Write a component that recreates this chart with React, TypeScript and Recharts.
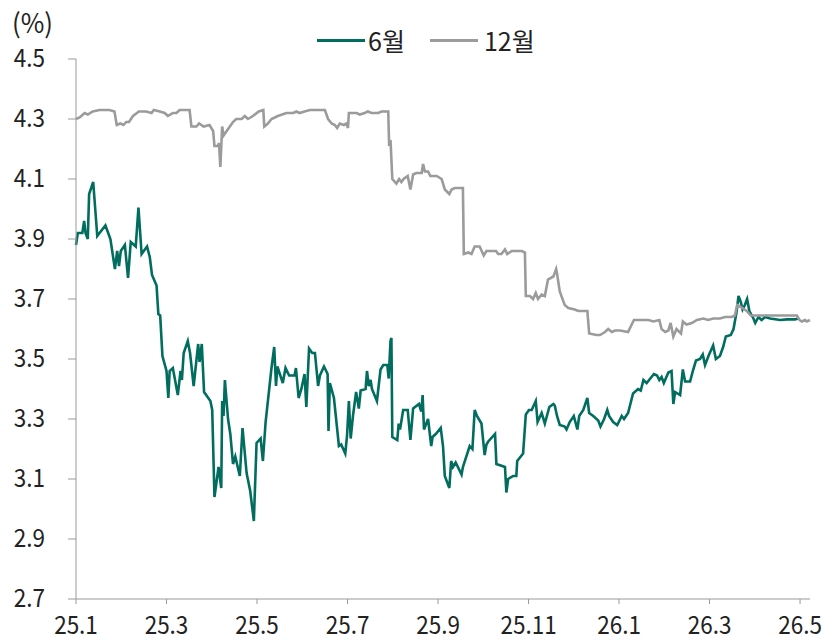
import React from 'react';
import { LineChart, Line, XAxis, YAxis } from 'recharts';

// x = months since 25.1 (Jan 2025), y = yield (%)
const sixMonthT = [
  0, 0.04, 0.14, 0.18, 0.21, 0.26, 0.29, 0.38, 0.47, 0.52, 0.65, 0.76, 0.86, 0.91, 0.95, 0.99,
  1.08, 1.15, 1.21, 1.32, 1.38, 1.45, 1.57, 1.63, 1.68, 1.78, 1.82, 1.86, 1.91, 2.0, 2.04, 2.07,
  2.14, 2.25, 2.31, 2.34, 2.38, 2.47, 2.52, 2.6, 2.7, 2.73, 2.78, 2.83, 2.97, 3.01, 3.06, 3.15,
  3.21, 3.23, 3.26, 3.29, 3.36, 3.41, 3.47, 3.52, 3.62, 3.68, 3.77, 3.85, 3.93, 3.99, 4.08, 4.13,
  4.19, 4.32, 4.38, 4.42, 4.45, 4.57, 4.63, 4.71, 4.83, 4.86, 4.92, 4.98, 5.05, 5.09, 5.15, 5.22,
  5.28, 5.35, 5.39, 5.48, 5.56, 5.58, 5.61, 5.7, 5.81, 5.86, 5.95, 5.99, 6.03, 6.07, 6.12, 6.19,
  6.25, 6.29, 6.4, 6.43, 6.47, 6.51, 6.54, 6.65, 6.73, 6.79, 6.88, 6.91, 6.95, 6.97, 6.99, 7.1,
  7.13, 7.16, 7.23, 7.33, 7.39, 7.45, 7.58, 7.63, 7.66, 7.69, 7.78, 7.85, 7.88, 7.95, 8.06, 8.11,
  8.15, 8.25, 8.29, 8.33, 8.39, 8.52, 8.55, 8.7, 8.76, 8.81, 8.86, 8.96, 9.03, 9.07, 9.11, 9.26,
  9.29, 9.48, 9.51, 9.55, 9.66, 9.73, 9.75, 9.88, 9.94, 10.01, 10.07, 10.1, 10.16, 10.2, 10.29, 10.36,
  10.46, 10.55, 10.58, 10.63, 10.69, 10.8, 10.84, 10.91, 11.0, 11.08, 11.12, 11.21, 11.3, 11.34, 11.43, 11.54,
  11.59, 11.67, 11.74, 11.78, 11.87, 11.96, 12.06, 12.11, 12.2, 12.31, 12.42, 12.48, 12.54, 12.61, 12.77, 12.84,
  12.89, 12.94, 12.99, 13.09, 13.16, 13.2, 13.24, 13.35, 13.41, 13.46, 13.57, 13.64, 13.7, 13.79, 13.85, 13.9,
  13.99, 14.08, 14.14, 14.23, 14.3, 14.36, 14.47, 14.53, 14.6, 14.64, 14.69, 14.73, 14.78, 14.83, 14.88, 14.97,
  15.01, 15.08, 15.15, 15.23, 15.34, 15.56, 15.71, 15.89, 15.96,
];
const sixMonthY = [
  3.88, 3.92, 3.92, 3.96, 3.92, 3.9, 4.05, 4.09, 3.91, 3.92, 3.945, 3.9, 3.8, 3.86, 3.81, 3.86,
  3.88, 3.77, 3.89, 3.875, 4.005, 3.85, 3.875, 3.84, 3.78, 3.745, 3.65, 3.645, 3.51, 3.46, 3.37, 3.46,
  3.47, 3.38, 3.46, 3.43, 3.52, 3.56, 3.52, 3.41, 3.55, 3.49, 3.55, 3.39, 3.36, 3.33, 3.04, 3.14,
  3.07, 3.36, 3.31, 3.43, 3.3, 3.25, 3.15, 3.175, 3.11, 3.27, 3.12, 3.06, 2.96, 3.22, 3.235, 3.16,
  3.29, 3.47, 3.54, 3.41, 3.475, 3.42, 3.47, 3.445, 3.445, 3.47, 3.37, 3.4, 3.45, 3.34, 3.535, 3.52,
  3.52, 3.41, 3.445, 3.475, 3.45, 3.26, 3.42, 3.37, 3.21, 3.215, 3.185, 3.245, 3.36, 3.235, 3.31, 3.39,
  3.335, 3.395, 3.4, 3.46, 3.41, 3.43, 3.4, 3.36, 3.465, 3.48, 3.48, 3.435, 3.56, 3.57, 3.24, 3.23,
  3.285, 3.265, 3.33, 3.33, 3.23, 3.335, 3.35, 3.325, 3.38, 3.265, 3.3, 3.21, 3.24, 3.25, 3.27, 3.21,
  3.11, 3.07, 3.16, 3.14, 3.155, 3.115, 3.14, 3.21, 3.2, 3.33, 3.31, 3.285, 3.18, 3.215, 3.225, 3.25,
  3.15, 3.14, 3.055, 3.1, 3.11, 3.11, 3.16, 3.185, 3.315, 3.33, 3.33, 3.34, 3.36, 3.29, 3.32, 3.285,
  3.34, 3.35, 3.345, 3.31, 3.28, 3.275, 3.265, 3.29, 3.31, 3.265, 3.31, 3.33, 3.37, 3.32, 3.31, 3.295,
  3.275, 3.3, 3.33, 3.31, 3.29, 3.28, 3.31, 3.3, 3.32, 3.385, 3.4, 3.395, 3.43, 3.42, 3.45, 3.445,
  3.43, 3.44, 3.42, 3.455, 3.46, 3.35, 3.39, 3.38, 3.465, 3.425, 3.425, 3.465, 3.495, 3.5, 3.515, 3.48,
  3.515, 3.545, 3.5, 3.51, 3.54, 3.575, 3.58, 3.6, 3.66, 3.71, 3.69, 3.665, 3.68, 3.7, 3.66, 3.635,
  3.62, 3.64, 3.63, 3.64, 3.635, 3.63, 3.632, 3.632, 3.635,
];

const twelveMonthT = [
  0, 0.08, 0.19, 0.26, 0.37, 0.52, 0.74, 0.85, 0.9, 0.98, 1.05, 1.11, 1.17, 1.26, 1.39, 1.55,
  1.67, 1.72, 1.85, 1.96, 2.03, 2.09, 2.14, 2.22, 2.29, 2.44, 2.51, 2.55, 2.66, 2.72, 2.82, 2.95,
  3.03, 3.06, 3.14, 3.16, 3.19, 3.23, 3.26, 3.4, 3.47, 3.54, 3.66, 3.73, 3.8, 3.91, 4.04, 4.14,
  4.16, 4.24, 4.32, 4.46, 4.65, 4.8, 4.87, 4.94, 5.05, 5.17, 5.35, 5.39, 5.5, 5.57, 5.65, 5.72,
  5.77, 5.83, 5.92, 5.98, 6.01, 6.03, 6.2, 6.27, 6.38, 6.45, 6.53, 6.6, 6.68, 6.75, 6.9, 6.92,
  6.95, 6.99, 7.08, 7.14, 7.19, 7.24, 7.33, 7.39, 7.45, 7.52, 7.64, 7.67, 7.71, 7.78, 7.83, 7.97,
  8.08, 8.15, 8.25, 8.3, 8.37, 8.44, 8.55, 8.57, 8.67, 8.74, 8.81, 8.92, 9.01, 9.07, 9.22, 9.28,
  9.33, 9.4, 9.48, 9.53, 9.63, 9.74, 9.85, 9.92, 9.94, 10.03, 10.1, 10.16, 10.21, 10.29, 10.36, 10.43,
  10.55, 10.61, 10.63, 10.69, 10.8, 10.88, 11.02, 11.1, 11.17, 11.3, 11.34, 11.5, 11.58, 11.69, 11.76, 11.84,
  11.91, 12.02, 12.2, 12.28, 12.33, 12.46, 12.65, 12.76, 12.89, 12.94, 13.02, 13.09, 13.14, 13.2, 13.27, 13.37,
  13.41, 13.49, 13.61, 13.72, 13.86, 13.97, 14.08, 14.23, 14.34, 14.49, 14.56, 14.61, 14.67, 14.73, 14.82, 14.91,
  15.04, 15.26, 15.63, 15.93, 15.99, 16.04, 16.11, 16.15, 16.22,
];
const twelveMonthY = [
  4.3, 4.305, 4.32, 4.315, 4.325, 4.33, 4.33, 4.325, 4.28, 4.285, 4.28, 4.29, 4.29, 4.31, 4.325, 4.325,
  4.32, 4.33, 4.325, 4.32, 4.31, 4.315, 4.32, 4.32, 4.33, 4.33, 4.33, 4.275, 4.275, 4.285, 4.275, 4.28,
  4.26, 4.21, 4.21, 4.22, 4.14, 4.275, 4.245, 4.275, 4.29, 4.3, 4.3, 4.31, 4.3, 4.31, 4.325, 4.33,
  4.275, 4.285, 4.3, 4.31, 4.32, 4.32, 4.325, 4.32, 4.325, 4.33, 4.33, 4.33, 4.33, 4.3, 4.285, 4.28,
  4.27, 4.285, 4.28, 4.285, 4.27, 4.32, 4.32, 4.315, 4.32, 4.325, 4.32, 4.32, 4.32, 4.325, 4.325, 4.21,
  4.23, 4.1, 4.085, 4.1, 4.09, 4.1, 4.11, 4.065, 4.115, 4.12, 4.12, 4.15, 4.125, 4.125, 4.11, 4.11,
  4.1, 4.065, 4.05, 4.065, 4.07, 4.07, 4.07, 3.85, 3.855, 3.85, 3.875, 3.875, 3.845, 3.86, 3.86, 3.86,
  3.85, 3.85, 3.865, 3.85, 3.86, 3.86, 3.86, 3.855, 3.71, 3.71, 3.7, 3.72, 3.7, 3.715, 3.71, 3.765,
  3.775, 3.8, 3.785, 3.725, 3.68, 3.67, 3.665, 3.66, 3.66, 3.66, 3.585, 3.58, 3.58, 3.59, 3.6, 3.59,
  3.595, 3.595, 3.59, 3.615, 3.63, 3.63, 3.63, 3.625, 3.63, 3.6, 3.59, 3.595, 3.62, 3.575, 3.6, 3.585,
  3.625, 3.615, 3.62, 3.63, 3.635, 3.63, 3.635, 3.635, 3.64, 3.64, 3.645, 3.68, 3.675, 3.67, 3.66, 3.645,
  3.645, 3.645, 3.645, 3.645, 3.63, 3.625, 3.63, 3.625, 3.63,
];

const xTicks = [0, 2, 4, 6, 8, 10, 12, 14, 16];
const xTickLabels = ['25.1', '25.3', '25.5', '25.7', '25.9', '25.11', '26.1', '26.3', '26.5'];
const yTicks = [2.7, 2.9, 3.1, 3.3, 3.5, 3.7, 3.9, 4.1, 4.3, 4.5];

const series = [
  { name: '6월', color: '#006d5f', t: sixMonthT, y: sixMonthY },
  { name: '12월', color: '#9b9b9b', t: twelveMonthT, y: twelveMonthY },
];

const FONT = '"Noto Sans CJK KR", "Noto Sans", sans-serif';

const XTick = ({ x, y, payload }: any) => {
  const i = xTicks.indexOf(payload.value);
  return (
    <text
      transform={`translate(${x},${y + 30}) scale(0.9,1)`}
      textAnchor="middle"
      fontSize={25}
      fontFamily={FONT}
      fill="#222"
    >
      {xTickLabels[i] ?? payload.value}
    </text>
  );
};

const YTick = ({ x, y, payload }: any) => (
  <text
    transform={`translate(${x - 23},${y + 8}) scale(0.9,1)`}
    textAnchor="end"
    fontSize={25}
    fontFamily={FONT}
    fill="#222"
  >
    {payload.value.toFixed(1)}
  </text>
);

export default function App() {
  return (
    <div style={{ position: 'absolute', left: 0, top: 0, width: 826, height: 642, background: '#fff', fontFamily: FONT }}>
      <div style={{ position: 'absolute', left: 12, top: 2, fontSize: 27, color: '#222', transform: 'scaleX(0.95)', transformOrigin: 'left' }}>
        (%)
      </div>
      <div style={{ position: 'absolute', left: 317, top: 21, display: 'flex', alignItems: 'center', fontSize: 25, color: '#222' }}>
        {series.map((s, i) => (
          <div key={s.name} style={{ display: 'flex', alignItems: 'center', marginRight: i === 0 ? 25 : 0 }}>
            <div style={{ width: 48, height: 3, background: s.color, marginRight: i === 0 ? 3 : 6 }} />
            <span style={{ lineHeight: '38px' }}>{s.name}</span>
          </div>
        ))}
      </div>
      <LineChart width={826} height={642} margin={{ top: 59, right: 16, bottom: 0, left: 0 }}>
        <XAxis
          dataKey="t"
          type="number"
          domain={[0, 16.22]}
          ticks={xTicks}
          interval={0}
          allowDuplicatedCategory={false}
          height={43}
          tickSize={5}
          tickMargin={0}
          stroke="#999"
          tickLine={{ stroke: '#999' }}
          tick={<XTick />}
        />
        <YAxis
          type="number"
          domain={[2.7, 4.5]}
          ticks={yTicks}
          interval={0}
          width={76}
          tickSize={8}
          tickMargin={0}
          stroke="#999"
          tickLine={{ stroke: '#999' }}
          tick={<YTick />}
        />
        {series.map((s) => (
          <Line
            key={s.name}
            name={s.name}
            data={s.t.map((t, i) => ({ t, v: s.y[i] }))}
            dataKey="v"
            type="linear"
            stroke={s.color}
            strokeWidth={2.6}
            dot={false}
            activeDot={false}
            isAnimationActive={false}
          />
        ))}
      </LineChart>
    </div>
  );
}
